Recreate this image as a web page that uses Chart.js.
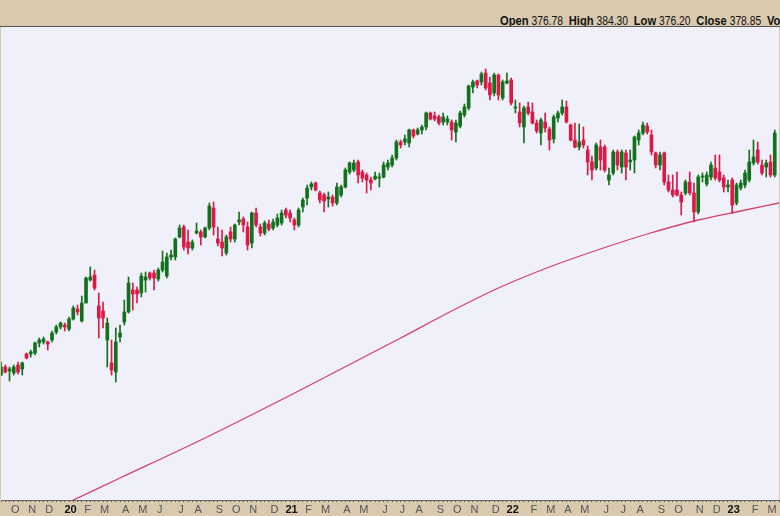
<!DOCTYPE html>
<html>
<head>
<meta charset="utf-8">
<script src="https://cdn.jsdelivr.net/npm/chart.js@4.4.1/dist/chart.umd.min.js"></script>
<style>
  body { margin: 0; width: 780px; height: 516px; overflow: hidden; background: #d9c9ae; }
  #hdr { position: relative; height: 26px; border-bottom: 1px solid #555; background: #d9c9ae; overflow: hidden;
         font-family: "Liberation Sans", Arial, sans-serif; color: #111; }
  #hdr .txt { position: absolute; left: 500px; top: 13px; white-space: nowrap; font-size: 12px;
              transform: scaleX(0.86); transform-origin: left center; }
  #hdr b { font-size: 13px; }
  canvas { display: block; }
</style>
</head>
<body>
<div id="hdr"><div class="txt"><b>Open</b> 376.78 &nbsp;<b>High</b> 384.30 &nbsp;<b>Low</b> 376.20 &nbsp;<b>Close</b> 378.85 &nbsp;<b>Vol</b></div></div>
<canvas id="myChart" width="780" height="489"></canvas>
<script>
"use strict";

// weekly candles, first bar = week of 16 Sep 2019
const opens = [
  155,163,159,157,165,161,176,176,177,187, 188,188,190,198,203,205,201,211,221,209,
  227,250,255,224,219,190,167,158,193,208, 218,240,240,237,250,257,257,251,260,254,
  273,273,293,303,288,282,297,298,293,302, 322,291,288,277,298,291,308,311,303,287,
  317,303,297,306,302,305,307,320,317,310, 305,323,332,343,347,337,335,331,333,327,
  335,343,358,360,368,358,355,350,351,352, 353,363,365,372,388,388,387,400,396,400,
  403,417,414,413,408,408,408,398,404,415, 422,443,449,448,457,447,437,455,432,447,
  450,422,418,403,423,418,407,397,408,401, 391,412,417,423,405,390,383,390,380,368,
  362,383,383,350,357,378,363,377,368,370, 390,397,404,395,377,365,377,348,340,340,
  335,337,348,337,318,353,346,353,362,358, 352,343,350,327,342,345,350,367,380,365,
  363,368,355
];
const highs = [
  168,165,163,165,168,168,177,180,188,192, 193,189,199,205,208,207,213,224,225,234,
  253,263,260,237,228,212,190,202,205,230, 253,247,243,257,258,258,260,262,279,277,
  280,292,305,305,300,290,307,300,303,327, 328,303,300,295,303,306,318,313,308,318,
  322,306,309,310,311,316,320,322,320,312, 322,332,345,348,348,339,337,338,335,347,
  345,362,368,370,370,360,357,353,358,357, 368,370,375,390,390,395,401,401,402,405,
  418,418,418,415,417,414,410,410,419,426, 445,450,450,458,461,453,457,456,450,457,
  452,430,427,424,428,427,410,412,417,403, 415,419,430,429,406,407,406,403,384,374,
  387,390,385,362,380,380,380,380,380,394, 400,408,407,400,378,378,378,355,355,358,
  338,350,358,347,355,357,358,368,375,375, 355,350,352,347,350,360,380,390,388,370,
  370,375,400
];
const lows = [
  154,157,149,155,156,155,171,173,175,183, 186,180,188,196,201,199,199,210,215,208,
  227,249,240,192,202,163,155,148,188,205, 217,220,227,233,238,250,240,249,258,252,
  270,270,292,280,276,280,296,285,292,300, 295,284,274,275,288,288,305,298,280,282,
  303,294,295,299,300,303,305,312,308,300, 303,318,325,340,339,327,318,323,324,325,
  333,342,356,358,347,348,337,340,350,343, 352,360,363,370,382,385,383,392,395,396,
  400,410,409,405,405,405,390,388,402,413, 420,437,442,445,440,430,434,430,430,446,
  425,417,403,387,415,406,397,385,398,380, 387,408,415,407,389,382,380,382,355,350,
  360,360,358,345,355,360,357,350,360,357, 385,395,396,375,362,360,345,338,333,334,
  315,335,335,308,316,348,344,350,350,348, 338,338,317,325,340,342,348,365,366,355,
  353,353,353
];
const closes = [
  163,158,161,163,158,167,172,178,187,190, 191,186,197,203,207,203,211,222,218,227,
  252,253,242,212,212,207,160,188,197,218, 247,236,236,254,253,252,252,260,268,273,
  275,291,302,283,282,288,299,293,302,324, 303,287,282,293,291,305,310,305,285,317,
  305,297,307,301,308,312,317,315,312,305, 320,330,342,346,340,330,329,333,327,343,
  343,360,367,367,355,352,350,347,354,353, 365,367,372,388,385,391,400,394,400,403,
  417,411,411,407,413,411,400,407,417,423, 444,448,445,456,442,435,455,435,448,449,
  427,423,407,422,417,407,399,410,402,390, 413,417,423,408,390,383,388,385,368,360,
  385,370,360,355,378,365,378,363,370,393, 397,405,398,378,365,375,348,340,335,335,
  328,348,337,318,353,354,355,365,352,350, 343,345,325,345,347,357,368,373,368,357,
  367,355,397
];

// moving average, read at a few weeks along the curve
const maWeeks  = [12, 17, 28, 47, 70, 94, 106, 117, 129, 141, 152, 164, 174, 183];
const maValues = [20, 30, 52, 90, 139, 192, 219, 242, 263, 281, 296, 310, 319, 327];

// month ticks along the bottom
const tickWeeks = [3,7,11,16,20,24,29,33,37,42,46,51,55,59,64,68,72,76,81,85,90,94,98,103,107,111,116,
                   120,125,129,133,137,142,146,150,155,159,164,168,172,177,181];
const tickNames = ['O','N','D','20','F','M','A','M','J','J','A','S','O','N','D','21','F','M','A','M','J','J','A','S','O','N','D',
                   '22','F','M','A','M','J','J','A','S','O','N','D','23','F','M'];
const weekCount = 184;

const labels = new Array(weekCount).fill('');
tickWeeks.forEach((w, i) => { labels[w] = tickNames[i]; });

const maSeries = new Array(weekCount).fill(null);
maWeeks.forEach((w, i) => { maSeries[w] = maValues[i]; });

const upColor = '#13701c';
const downColor = '#dc1846';
const candleColors = opens.map((o, i) => closes[i] >= o ? upColor : downColor);

const stripPlugin = {
    id: 'strips',
    beforeDraw(chart) {
        const { ctx, chartArea, width, height } = chart;
        ctx.save();
        ctx.fillStyle = '#d9c9ae';
        ctx.fillRect(0, 0, width, height);
        ctx.fillStyle = '#f0f0fa';
        ctx.fillRect(chartArea.left, chartArea.top, chartArea.right - chartArea.left, chartArea.bottom - chartArea.top);
        ctx.restore();
    }
};

const ctx = document.getElementById('myChart');

new Chart(ctx, {
    type: 'bar',
    data: {
        labels: labels,
        datasets: [
            {
                type: 'line',
                data: maSeries,
                spanGaps: true,
                borderColor: '#d2426a',
                borderWidth: 1.3,
                pointRadius: 0,
                cubicInterpolationMode: 'monotone',
                order: 3
            },
            {
                data: lows.map((l, i) => [l, highs[i]]),
                backgroundColor: candleColors,
                barThickness: 1,
                grouped: false,
                order: 2
            },
            {
                data: opens.map((o, i) => [o, closes[i]]),
                backgroundColor: candleColors,
                barThickness: 3,
                minBarLength: 1,
                grouped: false,
                order: 1
            }
        ]
    },
    options: {
        responsive: false,
        animation: false,
        devicePixelRatio: 1,
        layout: { padding: 0 },
        plugins: {
            legend: { display: false },
            tooltip: { enabled: false }
        },
        scales: {
            x: {
                type: 'category',
                offset: false,
                grid: {
                    offset: false,
                    drawOnChartArea: false,
                    drawTicks: true,
                    tickLength: 2,
                    color: '#555'
                },
                border: { display: true, color: '#666', dash: [1, 2] },
                ticks: {
                    autoSkip: false,
                    maxRotation: 0,
                    minRotation: 0,
                    padding: 1,
                    labelOffset: 1.5,
                    color: (c) => /^\d/.test(c.tick.label) ? '#111' : '#555',
                    font: (c) => ({
                        family: 'Liberation Sans, Arial, sans-serif',
                        size: 11,
                        weight: /^\d/.test(c.tick.label) ? 'bold' : 'normal'
                    })
                },
                afterFit(scale) { scale.height = 16; }
            },
            y: {
                display: false,
                min: 30,
                max: 503
            }
        }
    },
    plugins: [stripPlugin]
});
</script>
</body>
</html>
